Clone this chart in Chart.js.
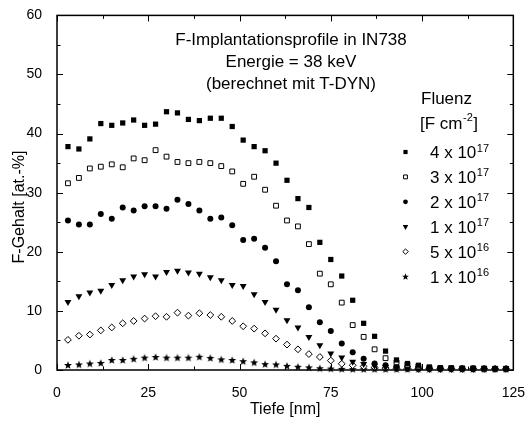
<!DOCTYPE html>
<html>
<head>
<meta charset="utf-8">
<script src="https://cdn.jsdelivr.net/npm/chart.js@4.4.1/dist/chart.umd.min.js"></script>
<style>
  html, body { margin: 0; padding: 0; background: #fff; }
</style>
</head>
<body>
<canvas id="grafico" width="532" height="423"></canvas>
<script>
// Tiefe in nm
const tiefe = [3, 6, 9, 12, 15, 18, 21, 24, 27, 30, 33, 36, 39, 42, 45, 48, 51, 54, 57, 60,
  63, 66, 69, 72, 75, 78, 81, 84, 87, 90, 93, 96, 99, 102, 105, 108, 111, 114, 117, 120, 123];

// F-Gehalt in at.-% je Fluenz
const fluenz4e17 = [37.8, 37.4, 39.1, 41.7, 41.4, 41.8, 42.3, 41.4, 41.6, 43.7, 43.5, 42.4, 42.2, 42.6, 42.6, 41.2, 38.9, 37.8, 37.1, 35.0,
  32.1, 29.0, 27.5, 21.6, 18.7, 15.9, 11.8, 7.9, 5.7, 3.2, 1.7, 1.1, 0.8, 0.5, 0.4, 0.35, 0.3, 0.3, 0.3, 0.25, 0.25];
const fluenz3e17 = [31.6, 32.5, 34.1, 34.4, 34.8, 34.3, 35.8, 35.5, 37.2, 36.1, 35.2, 35.0, 35.2, 35.0, 34.5, 33.6, 31.5, 32.7, 30.5, 27.8,
  25.3, 24.3, 21.3, 16.3, 14.5, 11.4, 7.6, 5.6, 3.5, 2.0, 1.3, 0.9, 0.6, 0.4, 0.3, 0.3, 0.25, 0.25, 0.2, 0.2, 0.2];
const fluenz2e17 = [25.3, 24.6, 24.6, 26.4, 25.6, 27.5, 27.0, 27.7, 27.7, 27.3, 28.8, 28.1, 27.0, 25.6, 25.8, 24.5, 22.0, 22.2, 20.7, 18.4,
  14.5, 13.5, 10.6, 8.1, 6.6, 4.5, 3.0, 1.9, 1.1, 0.8, 0.6, 0.5, 0.4, 0.3, 0.25, 0.25, 0.2, 0.2, 0.2, 0.2, 0.2];
const fluenz1e17 = [11.5, 12.5, 13.1, 13.4, 14.4, 15.2, 15.8, 16.2, 15.8, 16.6, 16.8, 16.5, 16.3, 15.7, 15.2, 14.4, 14.2, 12.8, 11.5, 10.2,
  8.4, 7.2, 5.6, 4.2, 2.8, 2.1, 1.4, 1.0, 0.7, 0.5, 0.4, 0.3, 0.25, 0.2, 0.2, 0.2, 0.2, 0.2, 0.2, 0.2, 0.2];
const fluenz5e16 = [5.1, 5.8, 6.0, 6.7, 7.2, 7.9, 8.3, 8.7, 9.1, 9.0, 9.7, 9.2, 9.6, 9.3, 9.0, 8.3, 7.4, 7.0, 6.2, 5.3,
  4.3, 3.5, 2.7, 2.2, 1.6, 1.05, 0.8, 0.6, 0.45, 0.35, 0.3, 0.25, 0.2, 0.2, 0.2, 0.2, 0.2, 0.2, 0.2, 0.2, 0.2];
const fluenz1e16 = [0.85, 0.95, 1.1, 1.2, 1.7, 1.7, 1.9, 2.1, 2.2, 2.1, 2.1, 2.1, 2.25, 2.05, 1.8, 1.7, 1.5, 1.3, 1.0, 0.95,
  0.7, 0.55, 0.45, 0.3, 0.25, 0.2, 0.15, 0.15, 0.15, 0.15, 0.15, 0.15, 0.15, 0.15, 0.15, 0.15, 0.15, 0.15, 0.15, 0.15, 0.15];

const legendeBasis = ["4", "3", "2", "1", "5", "1"];
const legendeExponent = ["17", "17", "17", "17", "16", "16"];
const titelZeilen = ["F-Implantationsprofile in IN738", "Energie = 38 keV", "(berechnet mit T-DYN)"];

const schrift = '"Liberation Sans", Arial, sans-serif';

function sternBild(r) {
  const c = document.createElement("canvas");
  const s = Math.ceil(r * 2) + 1;
  c.width = s; c.height = s;
  const g = c.getContext("2d");
  g.fillStyle = "#000";
  g.beginPath();
  for (let i = 0; i < 10; i++) {
    const rr = i % 2 === 0 ? r : r * 0.42;
    const a = -Math.PI / 2 + i * Math.PI / 5;
    g.lineTo(s / 2 + rr * Math.cos(a), s / 2 + 0.4 + rr * Math.sin(a));
  }
  g.closePath();
  g.fill();
  return c;
}

const stern = sternBild(4.2);
const sternKlein = sternBild(3.6);

function punkte(werte) {
  return werte.map((y, i) => ({ x: tiefe[i], y: y }));
}

const datensaetze = [
  { data: punkte(fluenz4e17), pointStyle: "rect", pointRadius: 3.7, backgroundColor: "#000", borderColor: "#000", borderWidth: 0 },
  { data: punkte(fluenz3e17), pointStyle: "rect", pointRadius: 3.4, backgroundColor: "#fff", borderColor: "#000", borderWidth: 1 },
  { data: punkte(fluenz2e17), pointStyle: "circle", pointRadius: 3, backgroundColor: "#000", borderColor: "#000", borderWidth: 0 },
  { data: punkte(fluenz1e17), pointStyle: "triangle", rotation: 180, pointRadius: 4, backgroundColor: "#000", borderColor: "#000", borderWidth: 0 },
  { data: punkte(fluenz5e16), pointStyle: "rectRot", pointRadius: 3.4, backgroundColor: "#fff", borderColor: "#000", borderWidth: 1 },
  { data: punkte(fluenz1e16), pointStyle: stern, pointRadius: 4, backgroundColor: "#000", borderColor: "#000", borderWidth: 0 }
];
datensaetze.forEach(d => { d.showLine = false; d.clip = false; d.pointHoverRadius = d.pointRadius; });

const rahmenPlugin = {
  id: "rahmen",
  afterDraw(chart) {
    const ctx = chart.ctx;
    const a = chart.chartArea;
    const sx = chart.scales.x;
    const sy = chart.scales.y;
    ctx.save();
    ctx.strokeStyle = "#000";
    ctx.lineWidth = 1.5;
    ctx.strokeRect(a.left, a.top, a.right - a.left, a.bottom - a.top);

    ctx.lineWidth = 1;
    ctx.beginPath();
    for (let v = 0; v <= 125; v += 12.5) {
      const px = Math.round(sx.getPixelForValue(v)) + 0.5;
      const len = (v % 25 === 0) ? 6 : 3.5;
      ctx.moveTo(px, a.bottom); ctx.lineTo(px, a.bottom - len);
      ctx.moveTo(px, a.top); ctx.lineTo(px, a.top + len);
    }
    for (let v = 0; v <= 60; v += 5) {
      const py = Math.round(sy.getPixelForValue(v)) + 0.5;
      const len = (v % 10 === 0) ? 6 : 3.5;
      ctx.moveTo(a.left, py); ctx.lineTo(a.left + len, py);
      ctx.moveTo(a.right, py); ctx.lineTo(a.right - len, py);
    }
    ctx.stroke();

    // Titel
    ctx.fillStyle = "#000";
    ctx.font = "17px " + schrift;
    ctx.textAlign = "center";
    ctx.textBaseline = "alphabetic";
    titelZeilen.forEach((t, i) => ctx.fillText(t, 291, 44.5 + i * 22.3));

    // y-Achsentitel
    ctx.save();
    ctx.translate(24, 207);
    ctx.rotate(-Math.PI / 2);
    ctx.font = "16px " + schrift;
    ctx.fillText("F-Gehalt [at.-%]", 0, 0);
    ctx.restore();

    // Legende
    ctx.textAlign = "left";
    ctx.font = "17px " + schrift;
    ctx.fillText("Fluenz", 421, 104);
    ctx.fillText("[F cm", 420, 128.5);
    let w = ctx.measureText("[F cm").width;
    ctx.font = "11px " + schrift;
    ctx.fillText("-2", 420 + w + 0.5, 121);
    const w2 = ctx.measureText("-2").width;
    ctx.font = "17px " + schrift;
    ctx.fillText("]", 420 + w + w2 + 1, 128.5);

    legendeBasis.forEach((b, i) => {
      const base = 158 + i * 24.9;
      const d = datensaetze[i];
      const opt = {
        pointStyle: i === 5 ? sternKlein : d.pointStyle,
        rotation: d.rotation || 0,
        radius: d.pointRadius * 0.8,
        borderWidth: d.borderWidth
      };
      ctx.fillStyle = d.backgroundColor;
      ctx.strokeStyle = d.borderColor;
      ctx.lineWidth = d.borderWidth;
      Chart.helpers.drawPoint(ctx, opt, 405.5, base - 6);
      ctx.fillStyle = "#000";
      ctx.font = "17px " + schrift;
      const txt = b + " x 10";
      ctx.fillText(txt, 430, base);
      const tw = ctx.measureText(txt).width;
      ctx.font = "11px " + schrift;
      ctx.fillText(legendeExponent[i], 430 + tw + 0.5, base - 6.5);
    });
    ctx.restore();
  }
};

new Chart(document.getElementById("grafico").getContext("2d"), {
  type: "scatter",
  data: { datasets: datensaetze },
  options: {
    responsive: false,
    animation: false,
    devicePixelRatio: 1,
    layout: { padding: { top: 15, right: 11, left: 0, bottom: 0 } },
    plugins: { legend: { display: false }, tooltip: { enabled: false } },
    scales: {
      x: {
        type: "linear", min: 0, max: 125,
        ticks: { stepSize: 25, padding: 7, color: "#000", font: { family: schrift, size: 14 } },
        grid: { display: false },
        border: { display: false },
        title: { display: true, text: "Tiefe [nm]", color: "#000", font: { family: schrift, size: 16 }, padding: { top: 0, bottom: 4 } },
        afterFit: s => { s.height = 53; }
      },
      y: {
        min: 0, max: 60,
        ticks: { stepSize: 10, padding: 7, color: "#000", font: { family: schrift, size: 14 } },
        grid: { display: false },
        border: { display: false },
        afterFit: s => { s.width = 57; }
      }
    }
  },
  plugins: [rahmenPlugin]
});
</script>
</body>
</html>
